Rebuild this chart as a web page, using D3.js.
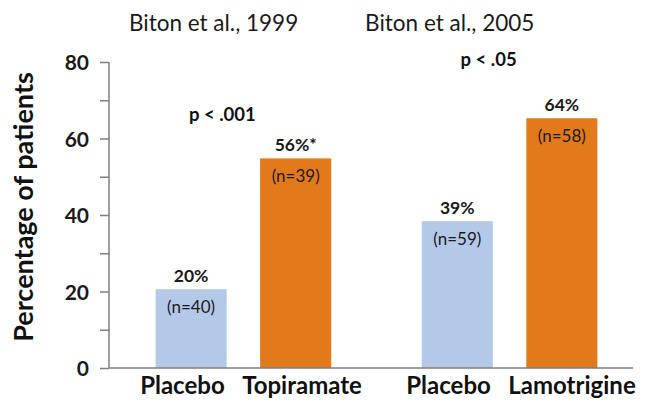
<!DOCTYPE html>
<html lang="en">
<head>
    <meta charset="UTF-8">
    <title>Biton responders</title>
    <script src="https://d3js.org/d3.v7.min.js"></script>
    <style>
        body { margin: 0; background: #fff; }
        svg { display: block; font-family: Lato, "Open Sans", sans-serif; }
    </style>
</head>
<body>
<script type="text/javascript">
    // data
    var studies = ["Biton et al., 1999", "Biton et al., 2005"];
    var arms = ["Placebo", "Active"];
    var drugNames = [["Placebo", "Topiramate"], ["Placebo", "Lamotrigine"]];
    var responders = [[20.6, 54.8], [38.4, 65.3]];
    var pctLabels = [["20%", "56%*"], ["39%", "64%"]];
    var nLabels = [["(n=40)", "(n=39)"], ["(n=59)", "(n=58)"]];
    var pLabels = ["p < .001", "p < .05"];
    var pLabelLevel = [64.6, 79];
    var yTicks = [0, 10, 20, 30, 40, 50, 60, 70, 80];

    var svgWidth = 646;
    var svgHeight = 400;
    var colors = ["#b4c8e8", "#e27a1c"];
    var axisColor = "#7f7f7f";

    var svg = d3.select("body").append("svg")
        .attr("width", svgWidth)
        .attr("height", svgHeight);

    var x0 = d3.scaleBand()
        .domain(studies)
        .range([109, 644])
        .paddingInner(0.34)
        .paddingOuter(0.175);

    var x1 = d3.scaleBand()
        .domain(arms)
        .range([0, x0.bandwidth()])
        .paddingInner(0.32);

    var yScale = d3.scaleLinear()
        .domain([0, 80])
        .range([368, 62]);

    // rows built from the arrays
    var rows = [];
    studies.forEach(function (s, i) {
        arms.forEach(function (a, j) {
            rows.push({study: s, arm: a, name: drugNames[i][j], value: responders[i][j],
                pct: pctLabels[i][j], n: nLabels[i][j], color: colors[j]});
        });
    });

    var barX = function (d) {
        return x0(d.study) + x1(d.arm);
    };

    // y axis
    var yAxis = d3.axisLeft(yScale)
        .tickValues(yTicks)
        .tickSize(9)
        .tickPadding(11)
        .tickFormat(function (d) {
            return d % 20 === 0 ? d : "";
        });

    var gy = svg.append("g")
        .attr("transform", "translate(109,0)")
        .call(yAxis);
    gy.select(".domain").attr("stroke", axisColor).attr("stroke-width", 1.5)
        .attr("d", "M0," + yScale(80) + "V" + yScale(0));
    gy.selectAll(".tick line").attr("stroke", axisColor).attr("stroke-width", 1.5);
    gy.selectAll(".tick text")
        .attr("fill", "#1a1a1a")
        .attr("font-family", "Lato, sans-serif")
        .attr("font-weight", "bold")
        .attr("font-size", "21px")
        .attr("dy", "0.36em");

    // bars
    svg.selectAll("rect.bar")
        .data(rows)
        .enter()
        .append("rect")
        .attr("class", "bar")
        .attr("x", barX)
        .attr("y", function (d) { return yScale(d.value); })
        .attr("width", x1.bandwidth())
        .attr("height", function (d) { return yScale(0) - yScale(d.value); })
        .attr("fill", function (d) { return d.color; });

    // x baseline
    svg.append("line")
        .attr("x1", 109).attr("x2", 633)
        .attr("y1", yScale(0)).attr("y2", yScale(0))
        .attr("stroke", axisColor)
        .attr("stroke-width", 1.5);

    // value labels
    svg.selectAll("text.pct")
        .data(rows)
        .enter()
        .append("text")
        .attr("class", "pct")
        .attr("x", function (d) { return barX(d) + x1.bandwidth() / 2; })
        .attr("y", function (d) { return yScale(d.value) - 7; })
        .attr("text-anchor", "middle")
        .attr("font-weight", "bold")
        .attr("font-size", "17.5px")
        .attr("fill", "#1a1a1a")
        .text(function (d) { return d.pct; });

    svg.selectAll("text.n")
        .data(rows)
        .enter()
        .append("text")
        .attr("class", "n")
        .attr("x", function (d) { return barX(d) + x1.bandwidth() / 2; })
        .attr("y", function (d) { return yScale(d.value) + 24; })
        .attr("text-anchor", "middle")
        .attr("font-size", "17px")
        .attr("fill", "#1a1a1a")
        .text(function (d) { return d.n; });

    // category labels: placebo right-aligned to its bar, active drug starts a bit left of its bar
    svg.selectAll("text.cat")
        .data(rows)
        .enter()
        .append("text")
        .attr("class", "cat")
        .attr("x", function (d) {
            return d.arm === "Placebo" ? barX(d) + x1.bandwidth() - 2 : barX(d) - 18;
        })
        .attr("y", 394)
        .attr("text-anchor", function (d) { return d.arm === "Placebo" ? "end" : "start"; })
        .attr("font-weight", "bold")
        .attr("font-size", "24px")
        .attr("fill", "#111")
        .text(function (d) { return d.name; });

    // study titles and p values
    var titleOffset = [58, 28];
    svg.selectAll("text.study")
        .data(studies)
        .enter()
        .append("text")
        .attr("class", "study")
        .attr("x", function (d, i) { return x0(d) + titleOffset[i]; })
        .attr("y", 31)
        .attr("text-anchor", "middle")
        .attr("font-size", "22.5px")
        .attr("fill", "#1a1a1a")
        .text(function (d) { return d; });

    svg.selectAll("text.pval")
        .data(studies)
        .enter()
        .append("text")
        .attr("class", "pval")
        .attr("x", function (d) { return x0(d) + x0.bandwidth() / 2 - 21; })
        .attr("y", function (d, i) { return yScale(pLabelLevel[i]); })
        .attr("text-anchor", "middle")
        .attr("font-weight", "bold")
        .attr("font-size", "18.5px")
        .attr("fill", "#111")
        .text(function (d, i) { return pLabels[i]; });

    // y title
    svg.append("text")
        .attr("transform", "translate(33,207) rotate(-90)")
        .attr("text-anchor", "middle")
        .attr("font-weight", "bold")
        .attr("font-size", "27px")
        .attr("fill", "#111")
        .text("Percentage of patients");
</script>
</body>
</html>
